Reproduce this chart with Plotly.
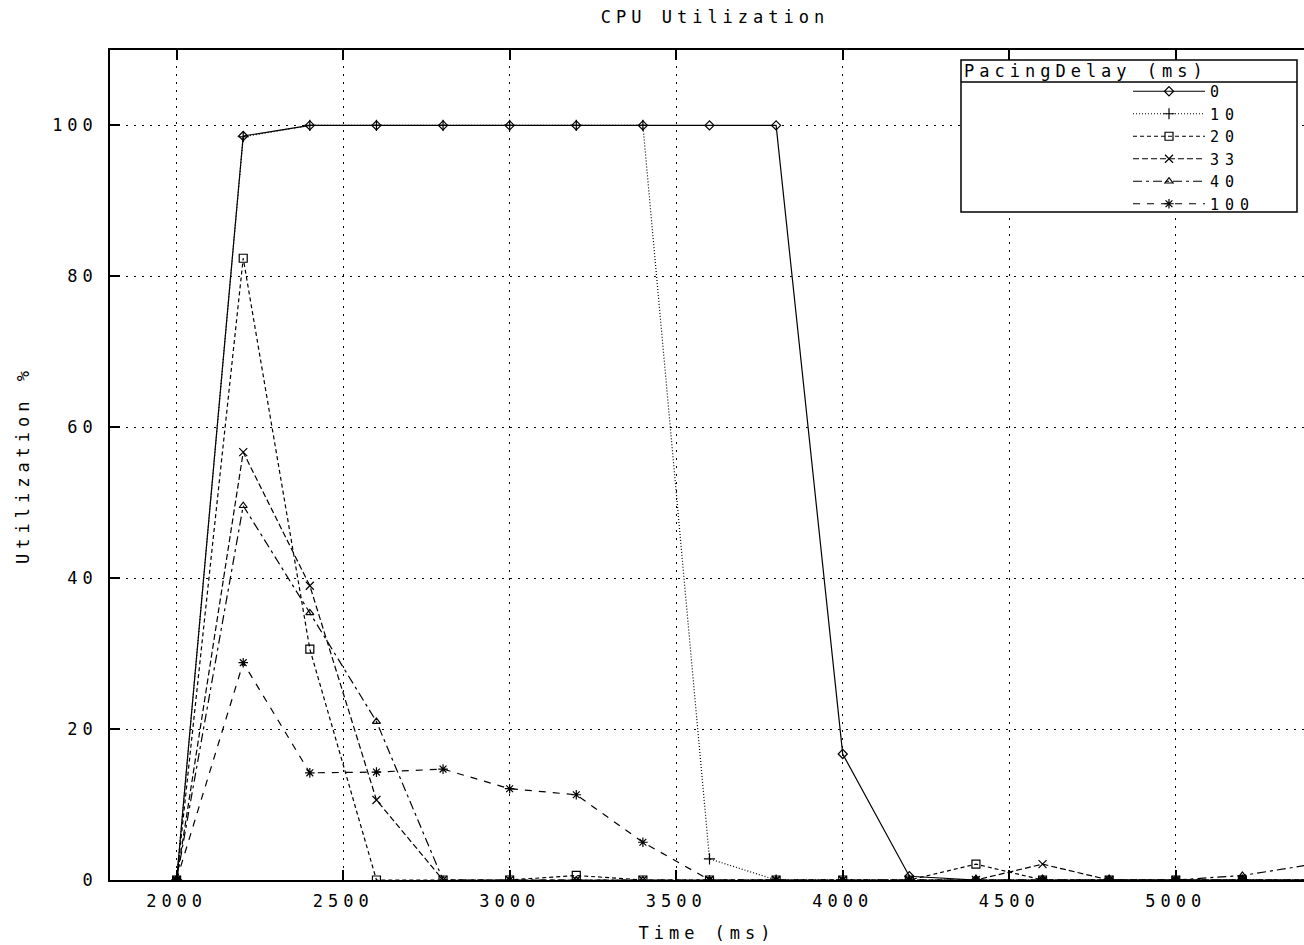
import plotly.graph_objects as go

# ---------------- data ----------------
time_ms = [2000, 2200, 2400, 2600, 2800, 3000, 3200, 3400, 3600,
           3800, 4000, 4200, 4400, 4600, 4800, 5000, 5200, 5400]
delay_labels = ["0", "10", "20", "33", "40", "100"]

util_0 = [0, 98.6, 100, 100, 100, 100, 100, 100, 100, 100, 16.7, 0.5, 0, 0, 0, 0, 0, 0]
util_10 = [0, 98.5, 100, 100, 100, 100, 100, 100, 2.8, 0, 0, 0, 0, 0, 0, 0, 0, 0]
util_20 = [0, 82.4, 30.6, 0, 0, 0, 0.6, 0, 0, 0, 0, 0, 2.1, 0, 0, 0, 0, 0]
util_33 = [0, 56.7, 39.0, 10.6, 0, 0, 0, 0, 0, 0, 0, 0, 0, 2.1, 0, 0, 0, 0]
util_40 = [0, 49.6, 35.4, 21.0, 0, 0, 0, 0, 0, 0, 0, 0, 0, 0, 0, 0, 0.6, 2.0]
util_100 = [0, 28.8, 14.2, 14.3, 14.7, 12.1, 11.3, 5.0, 0, 0, 0, 0, 0, 0, 0, 0, 0, 0]

x_ticks = [2000, 2500, 3000, 3500, 4000, 4500, 5000]
y_ticks = [0, 20, 40, 60, 80, 100]

series = [util_0, util_10, util_20, util_33, util_40, util_100]

# ---------------- style ----------------
FONT = "DejaVu Sans Mono"
dashes = ["solid", "1px,2px", "4px,3px", "6px,3px", "9px,4px,3px,4px", "7px,7px"]
symbols = ["diamond-open", "cross-thin-open", "square-open", "x-thin-open",
           "triangle-up-open", "asterisk-open"]
sizes = [7, 8, 8, 8, 7, 8]


def sp(text, gap=5):
    return '<span style="letter-spacing:%dpx">%s</span>' % (gap, text)


fig = go.Figure()
for name, vals, d, s, sz in zip(delay_labels, series, dashes, symbols, sizes):
    fig.add_trace(go.Scatter(
        x=time_ms, y=vals, mode="lines+markers", name=sp(name, 6),
        line=dict(color="black", width=1.2, dash=d),
        marker=dict(symbol=s, size=sz, color="black",
                    line=dict(width=1.2, color="black")),
        cliponaxis=True,
    ))

W, H = 1304, 945
L, T, B = 110, 50, 65


def px(xp):
    return (xp - L) / (W - L)


def py(yp):
    return (H - B - yp) / (H - B - T)


fig.update_layout(
    width=W, height=H,
    margin=dict(l=L, r=0, t=T, b=B, autoexpand=False),
    paper_bgcolor="white", plot_bgcolor="white",
    font=dict(family=FONT, size=17, color="black"),
    title=dict(text=sp("CPU Utilization"), x=715 / W, xanchor="center",
               y=1 - 17 / H, yanchor="middle",
               font=dict(family=FONT, size=17, color="black")),
    showlegend=True,
    legend=dict(x=px(1128), xanchor="left", y=py(75), yanchor="top",
                bgcolor="rgba(0,0,0,0)", borderwidth=0,
                font=dict(family=FONT, size=15, color="black"),
                itemwidth=72, tracegroupgap=0),
    shapes=[
        dict(type="rect", xref="paper", yref="paper",
             x0=px(961), x1=px(1297), y0=py(212), y1=py(60),
             line=dict(color="black", width=1.5), fillcolor="white",
             layer="above"),
        dict(type="line", xref="paper", yref="paper",
             x0=px(961), x1=px(1297), y0=py(82), y1=py(82),
             line=dict(color="black", width=1.5), layer="above"),
    ],
    annotations=[
        dict(text=sp("PacingDelay (ms)"), xref="paper", yref="paper",
             x=px(962), xanchor="left", y=py(71), yanchor="middle",
             showarrow=False, font=dict(family=FONT, size=17, color="black")),
    ],
)

fig.update_xaxes(
    range=[1800, 5385], automargin=False,
    tickmode="array", tickvals=x_ticks, ticktext=[sp(str(v)) for v in x_ticks],
    ticks="inside", ticklen=10, tickwidth=1.5, tickcolor="black",
    showline=True, linecolor="black", linewidth=1.5, mirror="ticks",
    showgrid=True, gridcolor="black", gridwidth=1, griddash="2px,6px",
    zeroline=False,
    title=dict(text=sp("Time (ms)"), standoff=17,
               font=dict(family=FONT, size=17)),
    tickfont=dict(family=FONT, size=17),
    ticklabelstandoff=5,
)
fig.update_yaxes(
    range=[0, 110], automargin=False,
    tickmode="array", tickvals=y_ticks, ticktext=[sp(str(v)) for v in y_ticks],
    ticks="inside", ticklen=10, tickwidth=1.5, tickcolor="black",
    showline=True, linecolor="black", linewidth=1.5, mirror=False,
    showgrid=True, gridcolor="black", gridwidth=1, griddash="2px,6px",
    zeroline=False,
    title=dict(text=sp("Utilization %"), standoff=18,
               font=dict(family=FONT, size=17)),
    tickfont=dict(family=FONT, size=17),
    ticklabelstandoff=7,
)

fig.write_html(
    "out.html",
    config={"displayModeBar": False},
    post_script="document.body.style.margin='0';document.body.style.overflow='hidden';",
)
